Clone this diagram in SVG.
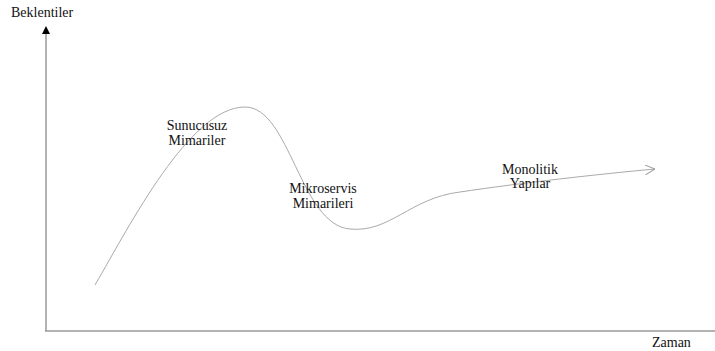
<svg xmlns="http://www.w3.org/2000/svg" width="715" height="351" viewBox="0 0 715 351" font-family="'Liberation Serif', 'Times New Roman', serif">
<defs>
<style>
text{font-family:'Liberation Serif','Times New Roman',serif;font-size:14px;fill:#111}
.ax{stroke:#999;stroke-width:1.5;fill:none}
.curve{stroke:#aaa;stroke-width:1;fill:none}
</style>
<marker id="tri" viewBox="0 0 10 10" refX="5" refY="5" markerWidth="8" markerHeight="8" orient="auto" markerUnits="userSpaceOnUse">
<path d="M0,0 L10,5 L0,10 z" fill="#000"/>
</marker>
<marker id="open" viewBox="0 0 10 10" refX="10" refY="5" markerWidth="10" markerHeight="10" orient="auto" markerUnits="userSpaceOnUse">
<path d="M0,0 L10,5 L0,10" fill="none" stroke="#999" stroke-width="1"/>
</marker>
</defs>
<rect width="715" height="351" fill="#fff"/>
<g id="axes">
<line class="ax" x1="46" y1="331" x2="46" y2="30" marker-end="url(#tri)"/>
<line class="ax" x1="45" y1="331" x2="715" y2="331" stroke="#888"/>
<text x="11" y="17">Beklentiler</text>
<text x="652" y="347">Zaman</text>
</g>
<g id="connectors">
<path class="curve" d="M95,285 C130,225 190,107 245,107 C290,107 300,225 350,229 C390,233 410,198 460,192 C520,183 600,174 655,169" marker-end="url(#open)"/>
</g>
<g id="sunucusuz">
<text x="197" y="130" text-anchor="middle">Sunucusuz</text>
<text x="197" y="145" text-anchor="middle">Mimariler</text>
</g>
<g id="mikroservis">
<text x="323" y="193" text-anchor="middle">Mikroservis</text>
<text x="323" y="208" text-anchor="middle">Mimarileri</text>
</g>
<g id="monolitik">
<text x="530" y="174" text-anchor="middle">Monolitik</text>
<text x="530" y="188" text-anchor="middle">Yapılar</text>
</g>
</svg>
